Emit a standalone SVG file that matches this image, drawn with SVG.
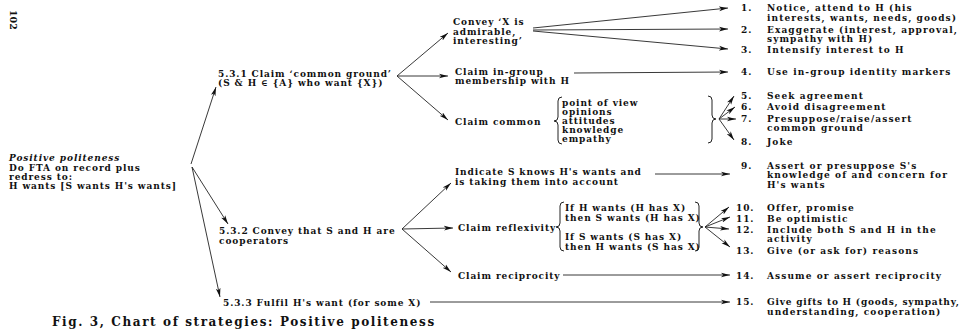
<svg xmlns="http://www.w3.org/2000/svg" width="965" height="336" viewBox="0 0 965 336">
<defs>
<style>
text{font-family:"DejaVu Serif","Liberation Serif",serif;font-size:9px;font-weight:bold;fill:#111;letter-spacing:0.9px}
.it{font-style:italic}
.rt{letter-spacing:1.1px}
.cap{font-size:12px;letter-spacing:1.6px}
.pg{font-size:9.5px;letter-spacing:0}
.c{fill:none;stroke:#222;stroke-width:0.9}
.br{fill:none;stroke:#222;stroke-width:1}
</style>
<marker id="ah" viewBox="0 0 10 6" refX="10" refY="3" markerWidth="9" markerHeight="5.4" markerUnits="userSpaceOnUse" orient="auto">
<path d="M0,0.4 L10,3 L0,5.6 L2.5,3 Z" fill="#111"/>
</marker>
</defs>
<rect width="965" height="336" fill="#fff"/>

<g id="page"><text class="pg" transform="translate(10,10) rotate(90)">102</text></g>

<g id="root">
<text x="9" y="161" class="it">Positive politeness</text>
<text x="9" y="170.5">Do FTA on record plus</text>
<text x="9" y="179.5">redress to:</text>
<text x="9" y="188.5">H wants [S wants H's wants]</text>
</g>

<g id="n531">
<text x="218" y="76.5">5.3.1 Claim ‘common ground’</text>
<text x="218" y="85.5">(S &amp; H ∈ {A} who want {X})</text>
</g>
<g id="n532">
<text x="219" y="234">5.3.2 Convey that S and H are</text>
<text x="219" y="243.5">cooperators</text>
</g>
<g id="n533">
<text x="223" y="306">5.3.3 Fulfil H's want (for some X)</text>
</g>

<g id="convey">
<text x="453" y="25">Convey ‘X is</text>
<text x="453" y="34.5">admirable,</text>
<text x="453" y="44">interesting’</text>
</g>
<g id="ingroup">
<text x="455" y="74.5">Claim in-group</text>
<text x="455" y="84">membership with H</text>
</g>
<g id="common">
<text x="455" y="125">Claim common</text>
<path class="br" d="M562,97 Q558,97 558,101 L558,117 Q558,121 554,121 Q558,121 558,125 L558,140 Q558,144 562,144"/>
<text x="562" y="106">point of view</text>
<text x="562" y="115">opinions</text>
<text x="562" y="124">attitudes</text>
<text x="562" y="133">knowledge</text>
<text x="562" y="142">empathy</text>
<path class="br" d="M708,96 Q712,96 712,100 L712,115 Q712,119 716,119 Q712,119 712,123 L712,139 Q712,143 708,143"/>
</g>
<g id="indicate">
<text x="455" y="175">Indicate S knows H's wants and</text>
<text x="455" y="184.5">is taking them into account</text>
</g>
<g id="reflex">
<text x="458" y="231">Claim reflexivity</text>
<path class="br" d="M564,202 Q560,202 560,206 L560,223 Q560,227 556,227 Q560,227 560,231 L560,247 Q560,251 564,251"/>
<text x="565" y="211">If H wants (H has X)</text>
<text x="565" y="220.5">then S wants (H has X)</text>
<text x="565" y="240">If S wants (S has X)</text>
<text x="565" y="249.5">then H wants (S has X)</text>
<path class="br" d="M695,202 Q699,202 699,206 L699,223 Q699,227 703,227 Q699,227 699,231 L699,247 Q699,251 695,251"/>
</g>
<g id="recip">
<text x="458" y="279">Claim reciprocity</text>
</g>

<g id="s1"><text x="741" y="11">1.</text><text class="rt" x="767" y="11">Notice, attend to H (his</text><text class="rt" x="767" y="20.5">interests, wants, needs, goods)</text></g>
<g id="s2"><text x="741" y="32.5">2.</text><text class="rt" x="767" y="32.5">Exaggerate (interest, approval,</text><text class="rt" x="767" y="42">sympathy with H)</text></g>
<g id="s3"><text x="741" y="52.5">3.</text><text class="rt" x="767" y="52.5">Intensify interest to H</text></g>
<g id="s4"><text x="741" y="74.5">4.</text><text class="rt" x="767" y="74.5">Use in-group identity markers</text></g>
<g id="s5"><text x="741" y="98.5">5.</text><text class="rt" x="767" y="98.5">Seek agreement</text></g>
<g id="s6"><text x="741" y="110">6.</text><text class="rt" x="767" y="110">Avoid disagreement</text></g>
<g id="s7"><text x="741" y="121.5">7.</text><text class="rt" x="767" y="121.5">Presuppose/raise/assert</text><text class="rt" x="767" y="131">common ground</text></g>
<g id="s8"><text x="741" y="144.5">8.</text><text class="rt" x="767" y="144.5">Joke</text></g>
<g id="s9"><text x="741" y="168.5">9.</text><text class="rt" x="767" y="168.5">Assert or presuppose S's</text><text class="rt" x="767" y="178">knowledge of and concern for</text><text class="rt" x="767" y="187.5">H's wants</text></g>
<g id="s10"><text x="736" y="210.5">10.</text><text class="rt" x="767" y="210.5">Offer, promise</text></g>
<g id="s11"><text x="736" y="221.5">11.</text><text class="rt" x="767" y="221.5">Be optimistic</text></g>
<g id="s12"><text x="736" y="232.5">12.</text><text class="rt" x="767" y="232.5">Include both S and H in the</text><text class="rt" x="767" y="242">activity</text></g>
<g id="s13"><text x="736" y="254">13.</text><text class="rt" x="767" y="254">Give (or ask for) reasons</text></g>
<g id="s14"><text x="736" y="278.5">14.</text><text class="rt" x="767" y="278.5">Assume or assert reciprocity</text></g>
<g id="s15"><text x="736" y="305">15.</text><text x="767" y="305" textLength="192" lengthAdjust="spacing" style="letter-spacing:0">Give gifts to H (goods, sympathy,</text><text class="rt" x="767" y="314.5">understanding, cooperation)</text></g>

<g id="connectors">
<line class="c" x1="191" y1="164" x2="216" y2="87" marker-end="url(#ah)"/>
<line class="c" x1="192" y1="167" x2="228" y2="224" marker-end="url(#ah)"/>
<line class="c" x1="192" y1="167" x2="220" y2="297" marker-end="url(#ah)"/>
<line class="c" x1="397" y1="76" x2="448" y2="33" marker-end="url(#ah)"/>
<line class="c" x1="397" y1="76" x2="448" y2="76" marker-end="url(#ah)"/>
<line class="c" x1="397" y1="76" x2="448" y2="120" marker-end="url(#ah)"/>
<line class="c" x1="402" y1="229" x2="451" y2="183" marker-end="url(#ah)"/>
<line class="c" x1="402" y1="229" x2="453" y2="228" marker-end="url(#ah)"/>
<line class="c" x1="402" y1="229" x2="451" y2="272" marker-end="url(#ah)"/>
<line class="c" x1="533" y1="28" x2="728" y2="8" marker-end="url(#ah)"/>
<line class="c" x1="533" y1="30" x2="728" y2="29" marker-end="url(#ah)"/>
<line class="c" x1="533" y1="31" x2="728" y2="49" marker-end="url(#ah)"/>
<line class="c" x1="574" y1="73" x2="728" y2="72" marker-end="url(#ah)"/>
<line class="c" x1="719" y1="119" x2="734" y2="96" marker-end="url(#ah)"/>
<line class="c" x1="719" y1="119" x2="735" y2="107" marker-end="url(#ah)"/>
<line class="c" x1="719" y1="119" x2="736" y2="119" marker-end="url(#ah)"/>
<line class="c" x1="719" y1="119" x2="734" y2="140" marker-end="url(#ah)"/>
<line class="c" x1="655" y1="174" x2="730" y2="174" marker-end="url(#ah)"/>
<line class="c" x1="705" y1="227" x2="729" y2="207" marker-end="url(#ah)"/>
<line class="c" x1="705" y1="227" x2="730" y2="217" marker-end="url(#ah)"/>
<line class="c" x1="705" y1="227" x2="729" y2="229" marker-end="url(#ah)"/>
<line class="c" x1="705" y1="227" x2="730" y2="247" marker-end="url(#ah)"/>
<line class="c" x1="563" y1="275" x2="730" y2="275" marker-end="url(#ah)"/>
<line class="c" x1="430" y1="302" x2="730" y2="302" marker-end="url(#ah)"/>
</g>

<g id="caption">
<text x="52" y="326" class="cap">Fig. 3, Chart of strategies: Positive politeness</text>
</g>
</svg>
